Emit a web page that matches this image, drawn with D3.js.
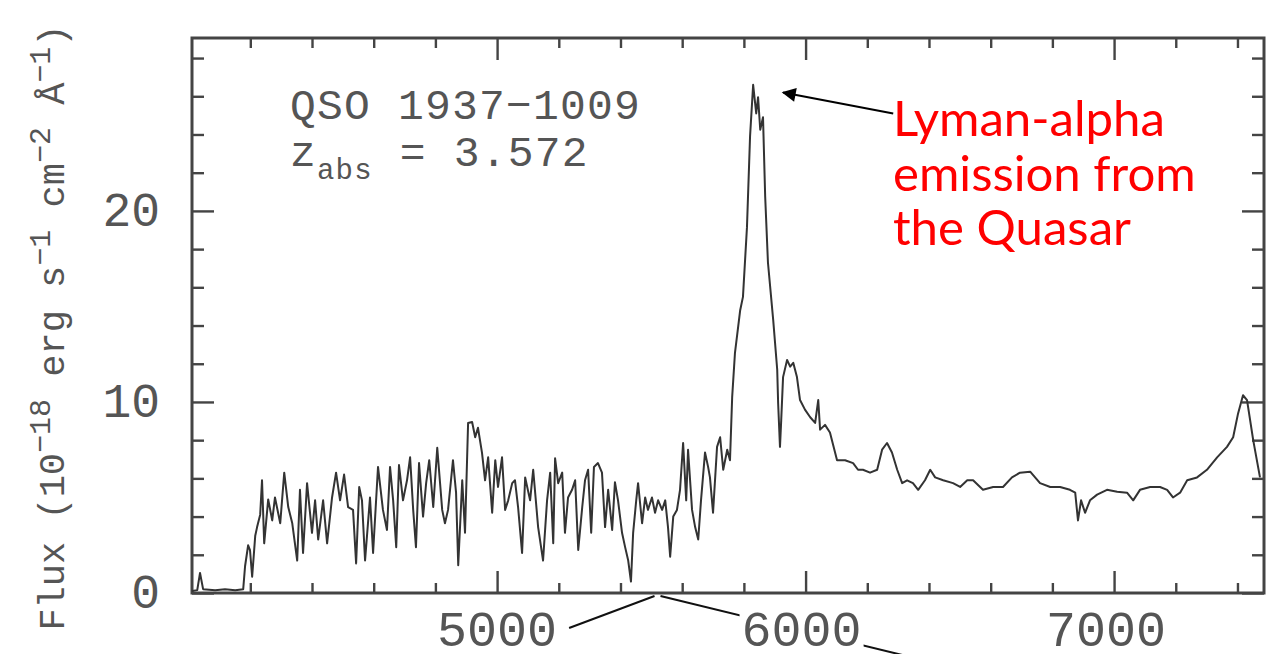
<!DOCTYPE html>
<html>
<head>
<meta charset="utf-8">
<script src="https://cdn.jsdelivr.net/npm/d3@7"></script>
<style>
  html, body { margin: 0; padding: 0; background: #fff; overflow: hidden; }
  svg { display: block; }
</style>
</head>
<body>
<svg id="chart" width="1273" height="654"></svg>
<script>
// Observed wavelength (Å) of each sample in the spectrum
const wavelength = [
  4011,4028,4037,4047,4086,4118,4151,4177,4183,4193,
  4199,4206,4216,4222,4232,4238,4245,4258,4271,4280,
  4297,4310,4323,4336,4352,4361,4371,4384,4400,4410,
  4420,4436,4449,4465,4478,4491,4504,4517,4533,4543,
  4553,4562,4572,4588,4598,4614,4630,4643,4653,4663,
  4673,4682,4695,4708,4718,4728,4737,4747,4760,4770,
  4780,4793,4806,4822,4831,4841,4857,4867,4874,4887,
  4896,4906,4919,4929,4938,4951,4961,4971,4984,4994,
  5003,5016,5026,5036,5049,5058,5068,5081,5091,5107,
  5117,5133,5149,5162,5172,5182,5188,5198,5211,5220,
  5230,5243,5253,5263,5276,5285,5295,5305,5314,5327,
  5340,5350,5360,5373,5382,5392,5405,5415,5425,5434,
  5441,5451,5457,5470,5480,5489,5502,5512,5522,5535,
  5545,5554,5561,5571,5583,5593,5603,5613,5619,5632,
  5642,5652,5661,5674,5684,5690,5700,5713,5723,5733,
  5746,5755,5762,5771,5788,5797,5810,5820,5830,5840,
  5846,5853,5862,5869,5878,5895,5908,5911,5917,5921,
  5927,5940,5950,5960,5972,5982,5998,6015,6031,6041,
  6047,6063,6079,6102,6128,6154,6170,6186,6209,6232,
  6248,6264,6280,6297,6313,6329,6348,6365,6387,6404,
  6420,6446,6478,6501,6524,6543,6575,6608,6640,6669,
  6695,6728,6760,6793,6825,6857,6874,6883,6893,6906,
  6922,6945,6977,7010,7042,7062,7084,7117,7149,7172,
  7191,7214,7237,7269,7301,7334,7366,7386,7402,7418,
  7431,7451,7473
];

// Flux density, 10^-18 erg s^-1 cm^-2 Å^-1
const flux = [
  0.1,0.15,1.05,0.2,0.15,0.2,0.15,0.2,1.4,2.5,
  2.25,0.85,3.0,3.45,4.1,5.9,2.6,4.9,3.8,5.0,
  3.65,6.3,4.5,3.65,1.7,5.4,2.1,5.75,3.15,4.85,
  2.8,4.85,2.6,5.0,6.3,4.85,6.2,4.5,4.35,1.55,
  5.55,4.85,1.7,5.0,2.1,6.6,4.35,3.3,6.6,4.85,
  2.4,6.7,4.85,5.9,7.1,4.35,2.4,6.8,4.0,5.75,
  6.95,4.5,7.6,4.35,3.65,4.35,6.95,5.25,1.45,5.9,
  3.15,8.9,8.95,8.15,8.65,7.35,5.9,7.1,4.2,6.95,
  5.55,7.1,4.35,4.85,5.75,5.9,4.5,2.1,6.05,4.85,
  6.45,3.45,1.7,4.85,6.3,2.6,7.05,5.75,6.3,3.15,
  5.0,5.4,5.9,2.25,4.5,5.9,6.45,3.15,6.6,6.8,
  6.3,3.45,5.4,3.3,5.8,4.85,3.15,2.4,1.7,0.6,
  3.15,4.85,5.75,3.65,5.0,4.35,5.0,4.2,4.85,4.35,
  4.85,3.45,1.9,4.0,4.35,5.4,7.85,4.85,7.5,4.35,
  3.45,2.8,4.85,7.35,6.6,6.05,4.2,7.65,8.15,6.45,
  7.5,6.95,10.25,12.55,14.8,15.5,19.15,23.9,26.6,25.1,
  25.95,24.25,24.9,20.75,17.3,14.3,11.7,9.95,7.65,9.05,
  11.3,12.2,11.85,12.05,11.3,10.1,9.6,9.2,8.9,10.1,
  8.55,8.8,8.4,6.95,6.95,6.8,6.45,6.45,6.3,6.45,
  7.5,7.85,7.35,6.45,5.75,5.9,5.75,5.4,5.9,6.45,
  6.05,5.9,5.75,5.55,5.9,5.9,5.4,5.55,5.55,6.05,
  6.3,6.35,5.75,5.55,5.55,5.4,5.25,3.8,4.85,4.2,
  4.85,5.15,5.4,5.3,5.25,4.85,5.4,5.55,5.55,5.4,
  5.0,5.25,5.9,6.05,6.45,7.1,7.65,8.15,9.4,10.35,
  10.1,8.0,6.05
];

// Axis ranges and ticks
const xDomain = [4011, 7486];
const yDomain = [0, 29.05];
const xMajorTicks = [5000, 6000, 7000];
const xTickLabels = ["5000", "6000", "7000"];
const xMinorTicks = [4200,4400,4600,4800,5200,5400,5600,5800,6200,6400,6600,6800,7200,7400];
const yMajorTicks = [0, 10, 20];
const yTickLabels = ["0", "10", "20"];
const yMinorTicks = [2,4,6,8,12,14,16,18,22,24,26,28];

// Text content
const objectName = "QSO 1937\u22121009";
const zSymbol = "z";
const zSubscript = "abs";
const zValue = " = 3.572";
const noteLines = ["Lyman-alpha", "emission from", "the Quasar"];
// Arrow from the note to the emission peak, in data units [wavelength, flux]
const arrowTail = [6284, 25.1];
const arrowHead = [5927, 26.2];
// Wavelength on the axis where the two guide lines meet
const guideApex = 5520;

const svg = d3.select("#chart");
const plot = { left: 192, right: 1264, top: 38, bottom: 593 };

const x = d3.scaleLinear().domain(xDomain).range([plot.left, plot.right]);
const y = d3.scaleLinear().domain(yDomain).range([plot.bottom, plot.top]);

const frameColor = "#444";
const textColor = "#555";
const monoFont = "'Liberation Mono', 'DejaVu Sans Mono', monospace";

// Ticks on all four sides, pointing inwards
function addTicks(axisFn, scale, values, size, transform) {
  const g = svg.append("g")
    .attr("transform", transform)
    .call(axisFn(scale).tickValues(values).tickSizeInner(-size).tickSizeOuter(0).tickFormat(""));
  g.select(".domain").remove();
  g.selectAll(".tick line").attr("stroke", frameColor).attr("stroke-width", 2.4);
  return g;
}
const minorLen = 10, majorLen = 22;
addTicks(d3.axisBottom, x, xMinorTicks, minorLen, `translate(0,${plot.bottom})`);
addTicks(d3.axisBottom, x, xMajorTicks, majorLen, `translate(0,${plot.bottom})`);
addTicks(d3.axisTop, x, xMinorTicks, minorLen, `translate(0,${plot.top})`);
addTicks(d3.axisTop, x, xMajorTicks, majorLen, `translate(0,${plot.top})`);
addTicks(d3.axisLeft, y, yMinorTicks, minorLen + 2, `translate(${plot.left},0)`);
addTicks(d3.axisLeft, y, yMajorTicks, majorLen, `translate(${plot.left},0)`);
addTicks(d3.axisRight, y, yMinorTicks, minorLen + 2, `translate(${plot.right},0)`);
addTicks(d3.axisRight, y, yMajorTicks, majorLen, `translate(${plot.right},0)`);

// Plot frame
svg.append("rect")
  .attr("x", plot.left).attr("y", plot.top)
  .attr("width", plot.right - plot.left).attr("height", plot.bottom - plot.top)
  .attr("fill", "none").attr("stroke", frameColor).attr("stroke-width", 3);

// Spectrum
const spectrum = wavelength.map((w, i) => [w, flux[i]]);
const line = d3.line().x(d => x(d[0])).y(d => y(d[1]));
svg.append("path")
  .datum(spectrum)
  .attr("d", line)
  .attr("fill", "none")
  .attr("stroke", "#333")
  .attr("stroke-width", 2)
  .attr("stroke-linejoin", "round");

// Y tick labels
svg.append("g").selectAll("text")
  .data(yMajorTicks)
  .join("text")
  .attr("x", plot.left - 32)
  .attr("y", d => y(d) + 15)
  .attr("text-anchor", "end")
  .attr("font-family", monoFont)
  .attr("font-size", 48)
  .attr("fill", textColor)
  .text((d, i) => yTickLabels[i]);

// Guide lines from the axis down to the labels
const apexX = x(guideApex);
const guides = svg.append("g").attr("stroke", "#111").attr("stroke-width", 2);
guides.append("line")
  .attr("x1", apexX - 3).attr("y1", plot.bottom + 3)
  .attr("x2", x(5000) + 72).attr("y2", plot.bottom + 35);
guides.append("line")
  .attr("x1", apexX + 3).attr("y1", plot.bottom + 3)
  .attr("x2", x(6000) + 105).attr("y2", plot.bottom + 64);

// X tick labels (drawn over the guide lines with a white backing)
const xLabels = svg.append("g");
xMajorTicks.forEach((t, i) => {
  const g = xLabels.append("g");
  const txt = g.append("text")
    .attr("x", x(t) - 4 * i)
    .attr("y", 646)
    .attr("text-anchor", "middle")
    .attr("font-family", monoFont)
    .attr("font-size", 50)
    .attr("fill", textColor)
    .text(xTickLabels[i]);
  const bb = txt.node().getBBox();
  g.insert("rect", "text")
    .attr("x", bb.x - 2).attr("y", bb.y + 6)
    .attr("width", bb.width + 4).attr("height", bb.height - 10)
    .attr("fill", "#fff");
});

// Y axis title with superscripts
const yTitle = svg.append("text")
  .attr("transform", `translate(64,${(plot.top + plot.bottom) / 2 + 12}) rotate(-90)`)
  .attr("text-anchor", "middle")
  .attr("font-family", monoFont)
  .attr("font-size", 37)
  .attr("fill", textColor);
const titleParts = [
  ["Flux (10", false], ["\u221218", true], [" erg s", false], ["\u22121", true],
  [" cm", false], ["\u22122", true], [" \u00c5", false], ["\u22121", true], [")", false]
];
titleParts.forEach(([s, sup], i) => {
  const prevSup = i > 0 && titleParts[i - 1][1];
  yTitle.append("tspan")
    .attr("font-size", sup ? 30 : 37)
    .attr("dy", sup ? -14 : (prevSup ? 14 : 0))
    .text(s);
});

// Object name and absorber redshift
svg.append("text")
  .attr("x", 290).attr("y", 119)
  .attr("font-family", monoFont).attr("font-size", 43)
  .attr("letter-spacing", 1.2)
  .attr("fill", textColor)
  .text(objectName);
const zText = svg.append("text")
  .attr("x", 290).attr("y", 166)
  .attr("font-family", monoFont).attr("font-size", 43)
  .attr("letter-spacing", 1.2)
  .attr("fill", textColor);
zText.append("tspan").text(zSymbol);
zText.append("tspan").attr("font-size", 29).attr("dy", 13).text(zSubscript);
zText.append("tspan").attr("dy", -13).text(zValue);

// Annotation in red
const noteFont = "Lato, 'Noto Sans', sans-serif";
const note = svg.append("g");
const probe = note.append("text")
  .attr("font-family", noteFont).attr("font-size", 40).text(noteLines[0]);
const noteSize = 40 * 272 / probe.node().getComputedTextLength();
probe.remove();
noteLines.forEach((s, i) => {
  note.append("text")
    .attr("x", 893)
    .attr("y", 136 + i * 54.5)
    .attr("font-family", noteFont)
    .attr("font-size", noteSize)
    .attr("fill", "#ff0000")
    .text(s);
});

// Arrow pointing at the Lyman-alpha peak
svg.append("defs").append("marker")
  .attr("id", "arrowhead")
  .attr("viewBox", "0 0 10 10")
  .attr("refX", 9).attr("refY", 5)
  .attr("markerWidth", 18).attr("markerHeight", 14)
  .attr("markerUnits", "userSpaceOnUse")
  .attr("orient", "auto")
  .append("path").attr("d", "M0,0 L10,5 L0,10 Z").attr("fill", "#000");
svg.append("line")
  .attr("x1", x(arrowTail[0])).attr("y1", y(arrowTail[1]))
  .attr("x2", x(arrowHead[0])).attr("y2", y(arrowHead[1]))
  .attr("stroke", "#000").attr("stroke-width", 2)
  .attr("marker-end", "url(#arrowhead)");
</script>
</body>
</html>
